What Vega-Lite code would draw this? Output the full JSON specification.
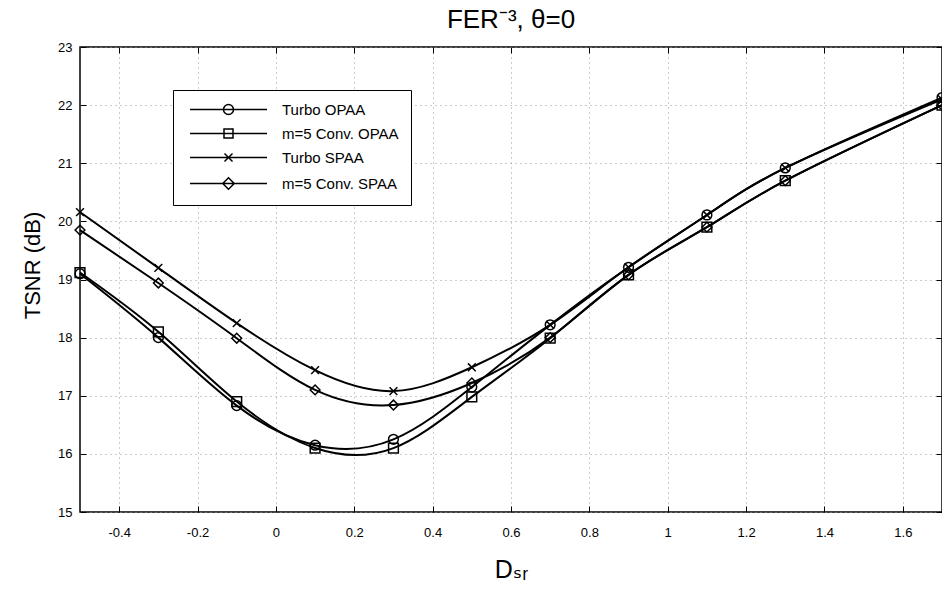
{
  "$schema": "https://vega.github.io/schema/vega-lite/v6.json",
  "width": 862,
  "height": 465,
  "autosize": {"type": "none"},
  "padding": {"left": 80, "top": 47, "right": 0, "bottom": 78},
  "background": "white",
  "title": {"text": "FER⁻³, θ=0", "fontSize": 26, "font": "Liberation Sans", "fontWeight": "normal", "color": "black", "offset": 16, "anchor": "middle", "baseline": "alphabetic", "dy": 29},
  "config": {"view": {"stroke": "black", "strokeWidth": 1.5}},
  "data": {"values": [
    {"series": "Turbo OPAA", "dsr": -0.5, "tsnr": 19.1},
    {"series": "Turbo OPAA", "dsr": -0.3, "tsnr": 18.0},
    {"series": "Turbo OPAA", "dsr": -0.1, "tsnr": 16.83},
    {"series": "Turbo OPAA", "dsr": 0.1, "tsnr": 16.15},
    {"series": "Turbo OPAA", "dsr": 0.3, "tsnr": 16.25},
    {"series": "Turbo OPAA", "dsr": 0.5, "tsnr": 17.15},
    {"series": "Turbo OPAA", "dsr": 0.7, "tsnr": 18.22},
    {"series": "Turbo OPAA", "dsr": 0.9, "tsnr": 19.21},
    {"series": "Turbo OPAA", "dsr": 1.1, "tsnr": 20.11},
    {"series": "Turbo OPAA", "dsr": 1.3, "tsnr": 20.92},
    {"series": "Turbo OPAA", "dsr": 1.7, "tsnr": 22.13},
    {"series": "m=5 Conv. OPAA", "dsr": -0.5, "tsnr": 19.12},
    {"series": "m=5 Conv. OPAA", "dsr": -0.3, "tsnr": 18.1},
    {"series": "m=5 Conv. OPAA", "dsr": -0.1, "tsnr": 16.9},
    {"series": "m=5 Conv. OPAA", "dsr": 0.1, "tsnr": 16.1},
    {"series": "m=5 Conv. OPAA", "dsr": 0.3, "tsnr": 16.1},
    {"series": "m=5 Conv. OPAA", "dsr": 0.5, "tsnr": 16.98},
    {"series": "m=5 Conv. OPAA", "dsr": 0.7, "tsnr": 17.99},
    {"series": "m=5 Conv. OPAA", "dsr": 0.9, "tsnr": 19.08},
    {"series": "m=5 Conv. OPAA", "dsr": 1.1, "tsnr": 19.9},
    {"series": "m=5 Conv. OPAA", "dsr": 1.3, "tsnr": 20.7},
    {"series": "m=5 Conv. OPAA", "dsr": 1.7, "tsnr": 22.0},
    {"series": "Turbo SPAA", "dsr": -0.5, "tsnr": 20.16},
    {"series": "Turbo SPAA", "dsr": -0.3, "tsnr": 19.2},
    {"series": "Turbo SPAA", "dsr": -0.1, "tsnr": 18.25},
    {"series": "Turbo SPAA", "dsr": 0.1, "tsnr": 17.44},
    {"series": "Turbo SPAA", "dsr": 0.3, "tsnr": 17.08},
    {"series": "Turbo SPAA", "dsr": 0.5, "tsnr": 17.49},
    {"series": "Turbo SPAA", "dsr": 0.7, "tsnr": 18.22},
    {"series": "Turbo SPAA", "dsr": 0.9, "tsnr": 19.21},
    {"series": "Turbo SPAA", "dsr": 1.1, "tsnr": 20.11},
    {"series": "Turbo SPAA", "dsr": 1.3, "tsnr": 20.92},
    {"series": "Turbo SPAA", "dsr": 1.7, "tsnr": 22.1},
    {"series": "m=5 Conv. SPAA", "dsr": -0.5, "tsnr": 19.85},
    {"series": "m=5 Conv. SPAA", "dsr": -0.3, "tsnr": 18.94},
    {"series": "m=5 Conv. SPAA", "dsr": -0.1, "tsnr": 17.99},
    {"series": "m=5 Conv. SPAA", "dsr": 0.1, "tsnr": 17.1},
    {"series": "m=5 Conv. SPAA", "dsr": 0.3, "tsnr": 16.84},
    {"series": "m=5 Conv. SPAA", "dsr": 0.5, "tsnr": 17.22},
    {"series": "m=5 Conv. SPAA", "dsr": 0.7, "tsnr": 18.0},
    {"series": "m=5 Conv. SPAA", "dsr": 0.9, "tsnr": 19.08},
    {"series": "m=5 Conv. SPAA", "dsr": 1.1, "tsnr": 19.9},
    {"series": "m=5 Conv. SPAA", "dsr": 1.3, "tsnr": 20.7},
    {"series": "m=5 Conv. SPAA", "dsr": 1.7, "tsnr": 22.0}
  ]},
  "layer": [
    {
      "mark": {"type": "line", "interpolate": "natural", "color": "black", "strokeWidth": 2},
      "encoding": {
        "x": {"field": "dsr", "type": "quantitative",
          "scale": {"domain": [-0.5, 1.7], "nice": false, "zero": false},
          "axis": {"values": [-0.4, -0.2, 0, 0.2, 0.4, 0.6, 0.8, 1, 1.2, 1.4, 1.6],
            "grid": true, "gridColor": "#999999", "gridDash": [1, 4], "gridWidth": 1,
            "domain": false, "tickSize": -6, "tickColor": "black", "tickWidth": 1,
            "labelFontSize": 13, "labelFont": "Liberation Sans", "labelColor": "black", "labelPadding": 20,
            "labelExpr": "datum.value < 0 ? '-' + format(-datum.value, '~g') : format(datum.value, '~g')",
            "title": "Dₛᵣ", "titleFontSize": 25, "titleFont": "Liberation Sans, DejaVu Sans", "titleFontWeight": "normal",
            "titleColor": "black", "titleY": 65, "titleX": 431, "titleBaseline": "alphabetic"}},
        "y": {"field": "tsnr", "type": "quantitative",
          "scale": {"domain": [15, 23], "nice": false, "zero": false},
          "axis": {"values": [15, 16, 17, 18, 19, 20, 21, 22, 23],
            "grid": true, "gridColor": "#999999", "gridDash": [1, 4], "gridWidth": 1,
            "domain": false, "tickSize": -6, "tickColor": "black", "tickWidth": 1,
            "labelFontSize": 13, "labelFont": "Liberation Sans", "labelColor": "black", "labelPadding": 14,
            "title": "TSNR (dB)", "titleFontSize": 22, "titleFont": "Liberation Sans", "titleFontWeight": "normal",
            "titleColor": "black", "titleX": -48, "titleY": 218, "titleBaseline": "middle"}},
        "detail": {"field": "series", "type": "nominal"}
      }
    },
    {
      "mark": {"type": "point", "filled": false, "color": "black", "strokeWidth": 1.5, "opacity": 1, "size": 95},
      "encoding": {
        "x": {"field": "dsr", "type": "quantitative",
          "axis": {"orient": "top", "labels": false, "grid": false, "domain": false, "tickSize": -6, "tickColor": "black",
            "values": [-0.4, -0.2, 0, 0.2, 0.4, 0.6, 0.8, 1, 1.2, 1.4, 1.6], "title": null}},
        "y": {"field": "tsnr", "type": "quantitative",
          "axis": {"orient": "right", "labels": false, "grid": false, "domain": false, "tickSize": -6, "tickColor": "black",
            "values": [15, 16, 17, 18, 19, 20, 21, 22, 23], "title": null}},
        "shape": {"field": "series", "type": "nominal",
          "scale": {"domain": ["Turbo OPAA", "m=5 Conv. OPAA", "Turbo SPAA", "m=5 Conv. SPAA"],
            "range": ["circle", "square", "M-0.8,-0.8L0.8,0.8M-0.8,0.8L0.8,-0.8", "diamond"]},
          "legend": null}
      }
    },
    {
      "transform": [{"filter": "false"}],
      "mark": {"type": "point", "filled": false, "color": "black", "strokeWidth": 1.5, "opacity": 1},
      "encoding": {
        "shape": {"field": "series", "type": "nominal",
          "scale": {"domain": ["Turbo OPAA", "m=5 Conv. OPAA", "Turbo SPAA", "m=5 Conv. SPAA"],
            "range": [
              "M-7.7,0L7.7,0M-1,0A1,1,0,1,0,1,0A1,1,0,1,0,-1,0",
              "M-7.7,0L7.7,0M-0.9,-0.9L0.9,-0.9L0.9,0.9L-0.9,0.9Z",
              "M-7.7,0L7.7,0M-0.8,-0.8L0.8,0.8M-0.8,0.8L0.8,-0.8",
              "M-7.7,0L7.7,0M0,-1.15L1.15,0L0,1.15L-1.15,0Z"]},
          "legend": {"orient": "none", "legendX": 93, "legendY": 43, "direction": "vertical", "title": null,
            "padding": 12, "symbolSize": 100, "symbolOffset": 36, "labelOffset": 46, "rowPadding": 8,
            "labelFontSize": 15, "labelFont": "Liberation Sans", "labelColor": "black", "labelLimit": 300,
            "strokeColor": "black", "fillColor": "white",
            "symbolStrokeColor": "black", "symbolStrokeWidth": 1.5, "symbolFillColor": "transparent", "symbolOpacity": 1,
            "labelExpr": "datum.label + '\u00a0\u00a0\u00a0\u00a0\u00a0\u00a0\u00a0\u00a0'"}
        }
      }
    }
  ],
  "resolve": {"scale": {"shape": "independent"}, "axis": {"x": "independent", "y": "independent"}}
}
